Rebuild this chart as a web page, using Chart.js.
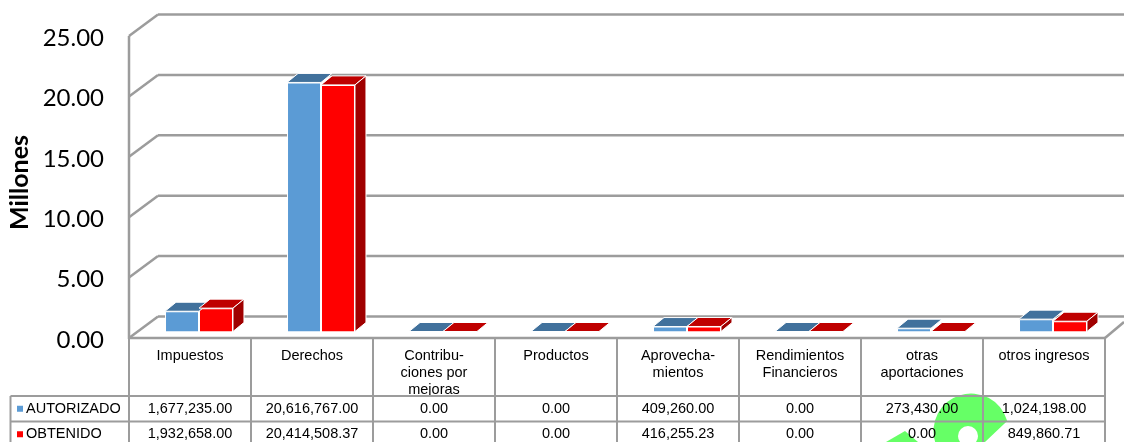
<!DOCTYPE html>
<html>
<head>
<meta charset="utf-8">
<title>Ingresos</title>
<script src="https://cdn.jsdelivr.net/npm/chart.js@4"></script>
<style>
html,body{margin:0;padding:0;background:#fff;overflow:hidden}
canvas{display:block}
</style>
</head>
<body>
<canvas id="chart" width="1124" height="442"></canvas>
<script>
const categories = [
  "Impuestos",
  "Derechos",
  ["Contribu-", "ciones por", "mejoras"],
  "Productos",
  ["Aprovecha-", "mientos"],
  ["Rendimientos", "Financieros"],
  ["otras", "aportaciones"],
  "otros ingresos"
]
const autorizado = [1677235.00, 20616767.00, 0, 0, 409260.00, 0, 273430.00, 1024198.00]
const obtenido = [1932658.00, 20414508.37, 0, 0, 416255.23, 0, 0, 849860.71]

const seriesNames = ["AUTORIZADO", "OBTENIDO"]
const yTitle = "Millones"
const frontColors = ["#5B9BD5", "#FF0000"]
const topColors = ["#41719C", "#BF0000"]
const sideColor = "#A00000"
const gridColor = "#9C9C9C"
const tableColor = "#9C9C9C"
const tableFont = "14.5px 'Liberation Sans'"

// how far the bars stand off the axes, and the depth of the walls and bars
const barOff = {x: 9, y: -6.5}
const barDepth = {x: 11, y: -9}
const wallDepth = {x: 29, y: -21.5}
const rows = [396, 421.5, 447]

function line(ctx, x1, y1, x2, y2) {
  ctx.beginPath()
  ctx.moveTo(x1, y1)
  ctx.lineTo(x2, y2)
  ctx.stroke()
}

function poly(ctx, pts, fill) {
  ctx.beginPath()
  pts.forEach((p, i) => i ? ctx.lineTo(p[0], p[1]) : ctx.moveTo(p[0], p[1]))
  ctx.closePath()
  ctx.fillStyle = fill
  ctx.fill()
  ctx.strokeStyle = "#fff"
  ctx.lineWidth = 1
  ctx.stroke()
}

const money = v => v.toLocaleString("en-US", {minimumFractionDigits: 2, maximumFractionDigits: 2})

const walls = {
  id: "walls",
  beforeDraw(chart) {
    const {ctx, chartArea: a, scales: {y}} = chart

    // green stamp behind the table
    ctx.save()
    ctx.fillStyle = "#66FF66"
    ctx.beginPath()
    ctx.moveTo(935, 442)
    ctx.arc(971, 431, 37.5, Math.PI * 0.905, Math.PI * 1.915)
    ctx.lineTo(985, 442)
    ctx.closePath()
    ctx.fill()
    ctx.beginPath()
    ctx.moveTo(886, 442)
    ctx.lineTo(905, 431)
    ctx.lineTo(918, 442)
    ctx.closePath()
    ctx.fill()
    ctx.fillStyle = "#fff"
    ctx.beginPath()
    ctx.arc(968, 436, 10, 0, Math.PI * 2)
    ctx.fill()
    ctx.restore()

    ctx.save()
    ctx.strokeStyle = gridColor
    ctx.lineWidth = 2.5
    y.ticks.forEach(t => {
      const py = y.getPixelForValue(t.value)
      line(ctx, a.left, py, a.left + wallDepth.x, py + wallDepth.y)
      line(ctx, a.left + wallDepth.x, py + wallDepth.y, chart.width, py + wallDepth.y)
    })
    line(ctx, a.left, a.top, a.left, a.bottom + 1)
    line(ctx, a.left, a.bottom, a.right, a.bottom)
    line(ctx, a.right, a.bottom, chart.width, a.bottom - 16)
    ctx.restore()
  },
  beforeDatasetsDraw(chart) {
    chart.ctx.save()
    chart.ctx.translate(barOff.x, barOff.y)
  },
  afterDatasetsDraw(chart) {
    const ctx = chart.ctx
    const d = barDepth
    // tops first, the red side goes over them
    chart.data.datasets.forEach((ds, i) => {
      chart.getDatasetMeta(i).data.forEach(bar => {
        const half = bar.width / 2
        const l = bar.x - half, r = bar.x + half, t = bar.y
        poly(ctx, [[l, t], [r, t], [r + d.x, t + d.y], [l + d.x, t + d.y]], topColors[i])
        if (i === 1 && bar.base - t > 1) {
          poly(ctx, [[r, t], [r + d.x, t + d.y], [r + d.x, bar.base + d.y], [r, bar.base]], sideColor)
        }
      })
    })
    ctx.restore()
  },
  afterDraw(chart) {
    const {ctx, chartArea: a, scales: {x}} = chart
    const colW = x.width / categories.length
    ctx.save()
    ctx.strokeStyle = tableColor
    ctx.lineWidth = 2
    for (let c = 0; c <= categories.length; c++) {
      const px = a.left + colW * c
      line(ctx, px, a.bottom, px, rows[2])
    }
    rows.forEach(r => line(ctx, 10.5, r, a.right, r))
    line(ctx, 10.5, rows[0], 10.5, rows[2])

    ctx.font = tableFont
    ctx.fillStyle = "#000"
    ctx.textBaseline = "middle"
    ;[autorizado, obtenido].forEach((vals, i) => {
      const cy = (rows[i] + rows[i + 1]) / 2
      ctx.textAlign = "left"
      ctx.fillStyle = frontColors[i]
      ctx.fillRect(17, cy - 3, 6, 6)
      ctx.fillStyle = "#000"
      ctx.fillText(seriesNames[i], 26, cy)
      ctx.textAlign = "center"
      vals.forEach((v, c) => ctx.fillText(money(v), x.getPixelForTick(c), cy))
    })

    // axis title sits a little above the middle of the axis
    ctx.translate(20, 182.5)
    ctx.rotate(-Math.PI / 2)
    ctx.font = "bold 25px Lato"
    ctx.textAlign = "center"
    ctx.fillText(yTitle, 0, 0)
    ctx.restore()
  }
}

new Chart(document.querySelector("#chart").getContext("2d"), {
  type: "bar",
  data: {
    labels: categories,
    datasets: [
      {label: seriesNames[0], data: autorizado, backgroundColor: frontColors[0], borderColor: "#fff", borderWidth: 1, clip: false},
      {label: seriesNames[1], data: obtenido, backgroundColor: frontColors[1], borderColor: "#fff", borderWidth: 1, clip: false}
    ]
  },
  options: {
    responsive: false,
    animation: false,
    categoryPercentage: 0.557,
    barPercentage: 1,
    layout: {padding: {top: 36, right: 19, left: 0, bottom: 0}},
    plugins: {legend: {display: false}, tooltip: {enabled: false}},
    scales: {
      x: {
        grid: {display: false},
        border: {display: false},
        afterFit: s => { s.height = 104 },
        ticks: {
          autoSkip: false,
          maxRotation: 0,
          padding: 2,
          color: "#000",
          font: {family: "Liberation Sans", size: 14.5, lineHeight: 1.17}
        }
      },
      y: {
        min: 0,
        max: 25000000,
        grid: {display: false},
        border: {display: false},
        afterFit: s => { s.width = 129 },
        ticks: {
          stepSize: 5000000,
          padding: 17,
          labelOffset: 2,
          color: "#000",
          font: {family: "Lato", size: 24},
          callback: v => (v / 1000000).toFixed(2)
        }
      }
    }
  },
  plugins: [walls]
})
</script>
</body>
</html>
